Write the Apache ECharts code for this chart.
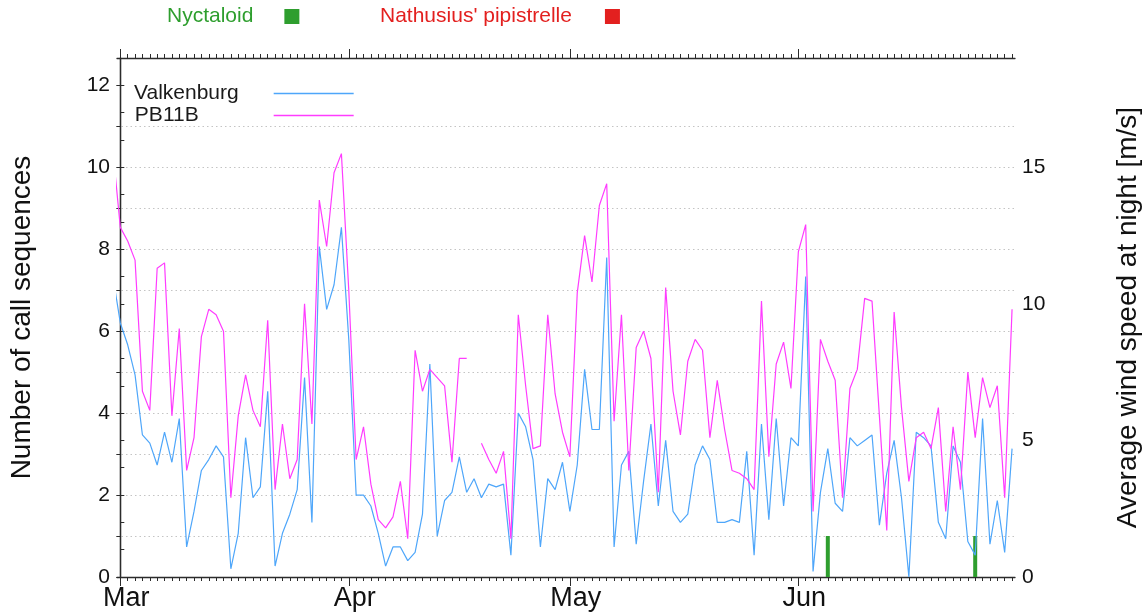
<!DOCTYPE html>
<html>
<head>
<meta charset="utf-8">
<title>Call sequences and night wind speed</title>
<script src="https://cdn.jsdelivr.net/npm/echarts@6.0.0/dist/echarts.min.js"></script>
<style>
  html, body { margin: 0; padding: 0; background: #fff; }
  #chart { width: 1144px; height: 615px; }
</style>
</head>
<body>
<div id="chart"></div>
<script>
// day index: 0 = 1 March, 121 = 30 June. first value of each wind series is day -1 (clipped at the left edge)
const firstDay = -1;
const monthStarts = [0, 31, 61, 92];
const monthLabels = ['Mar', 'Apr', 'May', 'Jun'];
const leftTickLabels = [0, 2, 4, 6, 8, 10, 12];
const rightTickLabels = [0, 5, 10, 15];

// average wind speed at night [m/s]
const valkenburg = [
  11.0, 9.3, 8.5, 7.4, 5.2, 4.9, 4.1, 5.3, 4.2, 5.8, 1.1,
  2.4, 3.9, 4.3, 4.8, 4.4, 0.3, 1.6, 5.1, 2.9, 3.3,
  6.8, 0.4, 1.6, 2.3, 3.2, 7.3, 2.0, 12.1, 9.8, 10.7,
  12.8, 8.7, 3.0, 3.0, 2.6, 1.6, 0.4, 1.1, 1.1, 0.6,
  0.9, 2.3, 7.8, 1.5, 2.8, 3.1, 4.4, 3.1, 3.6, 2.9,
  3.4, 3.3, 3.4, 0.8, 6.0, 5.5, 4.3, 1.1, 3.6, 3.2,
  4.2, 2.4, 4.1, 7.6, 5.4, 5.4, 11.7, 1.1, 4.1, 4.6,
  1.2, 3.5, 5.6, 2.6, 5.0, 2.4, 2.0, 2.3, 4.1, 4.8,
  4.3, 2.0, 2.0, 2.1, 2.0, 4.6, 0.8, 5.6, 2.1, 5.8,
  2.6, 5.1, 4.8, 11.0, 0.2, 3.1, 4.7, 2.7, 2.4, 5.1,
  4.8, 5.0, 5.2, 1.9, 3.8, 5.0, 2.9, 0.0, 5.3, 5.1,
  4.8, 2.0, 1.4, 4.8, 4.2, 1.3, 0.8, 5.8, 1.2, 2.8,
  0.9, 4.7
];
const pb11b = [
  15.6, 12.8, 12.3, 11.6, 6.8, 6.1, 11.3, 11.5, 5.9, 9.1, 3.9,
  5.1, 8.8, 9.8, 9.6, 9.0, 2.9, 5.9, 7.4, 6.1, 5.5,
  9.4, 3.2, 5.6, 3.6, 4.3, 10.0, 5.6, 13.8, 12.1, 14.8,
  15.5, 10.5, 4.3, 5.5, 3.4, 2.1, 1.8, 2.2, 3.5, 1.4,
  8.3, 6.8, 7.6, 7.3, 7.0, 4.2, 8.0, 8.0, null, 4.9,
  4.3, 3.8, 4.6, 1.4, 9.6, 7.0, 4.7, 4.8, 9.6, 6.7,
  5.3, 4.4, 10.4, 12.5, 10.8, 13.6, 14.4, 5.7, 9.6, 3.9,
  8.4, 9.0, 8.0, 3.1, 10.6, 6.8, 5.2, 7.9, 8.7, 8.3,
  5.1, 7.2, 5.4, 3.9, 3.8, 3.6, 3.2, 10.1, 4.4, 7.8,
  8.6, 6.9, 11.9, 12.9, 2.4, 8.7, 7.9, 7.2, 2.9, 6.9,
  7.6, 10.2, 10.1, 5.9, 1.7, 9.7, 6.2, 3.5, 5.1, 5.3,
  4.7, 6.2, 2.4, 5.5, 3.2, 7.5, 5.1, 7.3, 6.2, 7.0,
  2.9, 9.8
];

// number of call sequences per night
const nyctaloidDays = [96, 116];
const nyctaloidCalls = [1, 1];
const nathusiusDays = [];
const nathusiusCalls = [];

const font = '"Liberation Sans", Arial, sans-serif';
const axisColor = '#2b2b2b';
const green = '#2e9e2e';
const red = '#e3201f';
const blue = '#4ea6fa';
const magenta = '#ff3cff';

const dayTicks = [];
for (let d = 0; d <= 121; d++) dayTicks.push(d);
const leftTicks = [];
for (let v = 0; v <= 12; v++) leftTicks.push(v);
const rightTicks = [];
for (let v = 0; v <= 19; v++) rightTicks.push(v);

const toPairs = (vals) => vals.map((v, i) => [firstDay + i, v]);

const axisLine = { show: true, lineStyle: { color: axisColor, width: 1.3 } };
const tickStyle = { color: axisColor, width: 1 };
const xBase = { type: 'value', min: -0.45, max: 121.4, splitLine: { show: false } };

const chart = echarts.init(document.getElementById('chart'));
chart.setOption({
  animation: false,
  backgroundColor: '#fff',
  grid: { left: 117, right: 129, top: 58, bottom: 38, containLabel: false, outerBoundsMode: 'none' },
  legend: [
    {
      data: [{ name: 'Nyctaloid', textStyle: { color: green, padding: [0, 26, 0, 0] } }],
      left: 167, top: 6, padding: 0, align: 'right', icon: 'rect',
      itemWidth: 15, itemHeight: 15, selectedMode: false,
      textStyle: { fontSize: 21, fontFamily: font }
    },
    {
      data: [{ name: "Nathusius' pipistrelle", textStyle: { color: red, padding: [0, 28, 0, 0] } }],
      left: 380, top: 6, padding: 0, align: 'right', icon: 'rect',
      itemWidth: 15, itemHeight: 15, selectedMode: false,
      textStyle: { fontSize: 21, fontFamily: font }
    },
    {
      data: [
        { name: 'Valkenburg', textStyle: { padding: [0, 30, 0, 0] } },
        { name: 'PB11B', textStyle: { padding: [0, 70, 0, 0] } }
      ],
      orient: 'vertical', left: 134, top: 83, padding: 0, align: 'right', icon: 'rect',
      itemWidth: 80, itemHeight: 1.5, itemGap: 1, selectedMode: false,
      textStyle: { fontSize: 21, fontFamily: font, color: '#1a1a1a', lineHeight: 21 }
    }
  ],
  xAxis: [
    {
      ...xBase, position: 'bottom', axisLine,
      axisTick: { show: true, customValues: monthStarts, length: 9, lineStyle: tickStyle },
      axisLabel: {
        customValues: monthStarts,
        formatter: (v) => monthLabels[monthStarts.indexOf(v)],
        fontSize: 27, fontFamily: font, color: '#111', margin: 8, padding: [0, 0, 0, 12]
      }
    },
    {
      ...xBase, position: 'bottom', axisLine: { show: false },
      axisTick: { show: true, customValues: dayTicks, length: 4, lineStyle: tickStyle },
      axisLabel: { show: false }
    },
    {
      ...xBase, position: 'top', axisLine,
      axisTick: { show: true, customValues: monthStarts, length: 9, lineStyle: tickStyle },
      axisLabel: { show: false }
    },
    {
      ...xBase, position: 'top', axisLine: { show: false },
      axisTick: { show: true, customValues: dayTicks, length: 4, lineStyle: tickStyle },
      axisLabel: { show: false }
    }
  ],
  yAxis: [
    {
      type: 'value', position: 'left', min: 0, max: 12.667, interval: 2,
      name: 'Number of call sequences', nameLocation: 'middle', nameRotate: 90, nameGap: 81,
      nameTextStyle: { fontSize: 28, fontFamily: font, color: '#111' },
      axisLine,
      axisTick: { show: true, customValues: leftTicks, length: 4, lineStyle: tickStyle },
      axisLabel: { customValues: leftTickLabels, fontSize: 21, fontFamily: font, color: '#111', margin: 7 },
      splitLine: {
        show: true, showMinLine: false, showMaxLine: false,
        lineStyle: { color: '#c4c4c4', width: 1, type: [1.5, 3] }
      }
    },
    {
      type: 'value', position: 'right', min: 0, max: 19, interval: 5,
      name: 'Average wind speed at night [m/s]', nameLocation: 'middle', nameRotate: 90, nameGap: 99,
      nameTextStyle: { fontSize: 28, fontFamily: font, color: '#111' },
      axisLine,
      axisTick: { show: true, customValues: rightTicks, length: 4, lineStyle: tickStyle },
      axisLabel: { customValues: rightTickLabels, fontSize: 21, fontFamily: font, color: '#111', margin: 7 },
      splitLine: { show: false }
    }
  ],
  series: [
    {
      name: 'Nyctaloid', type: 'bar', xAxisIndex: 0, yAxisIndex: 0,
      barWidth: 4, barGap: '-100%', itemStyle: { color: green },
      data: nyctaloidDays.map((d, i) => [d, nyctaloidCalls[i]])
    },
    {
      name: "Nathusius' pipistrelle", type: 'bar', xAxisIndex: 0, yAxisIndex: 0,
      barWidth: 4, barGap: '-100%', itemStyle: { color: red },
      data: nathusiusDays.map((d, i) => [d, nathusiusCalls[i]])
    },
    {
      name: 'Valkenburg', type: 'line', xAxisIndex: 0, yAxisIndex: 1,
      symbol: 'none', lineStyle: { color: blue, width: 1.2 }, itemStyle: { color: blue },
      data: toPairs(valkenburg)
    },
    {
      name: 'PB11B', type: 'line', xAxisIndex: 0, yAxisIndex: 1,
      symbol: 'none', connectNulls: false, lineStyle: { color: magenta, width: 1.2 }, itemStyle: { color: magenta },
      data: toPairs(pb11b)
    }
  ]
});
</script>
</body>
</html>
